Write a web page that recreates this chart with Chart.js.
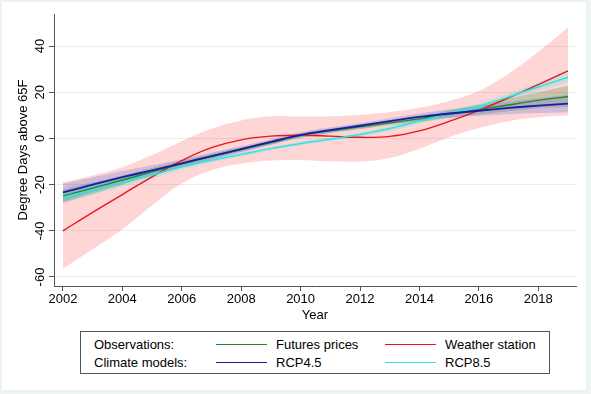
<!DOCTYPE html>
<html>
<head>
<meta charset="utf-8">
<script src="https://cdn.jsdelivr.net/npm/chart.js@4.4.0/dist/chart.umd.min.js"></script>
<style>
  body { margin: 0; background: #eef3f4; font-family: "Liberation Sans", Arial, sans-serif; }
  #frame { position: absolute; left: 2px; top: 2px; width: 584px; height: 388px; background: #fff; }
  #grafica { position: absolute; left: 0; top: 0; }
  #leyenda { position: absolute; left: 80px; top: 331px; width: 468px; height: 41px; border: 1px solid #555; background: #fff; }
  .txt { position: absolute; font-size: 13px; color: #000; line-height: 15px; white-space: nowrap; }
  .lin { position: absolute; width: 51px; height: 0; border-top: 1.5px solid; }
</style>
</head>
<body>
<div id="frame"></div>
<canvas id="grafica" width="591" height="330"></canvas>
<div id="leyenda"></div>
<script>
// years and axis ticks
const years = [2002, 2003, 2004, 2005, 2006, 2007, 2008, 2009, 2010, 2011, 2012, 2013, 2014, 2015, 2016, 2017, 2018, 2019];
const xTicks = [2002, 2004, 2006, 2008, 2010, 2012, 2014, 2016, 2018];
const yTicks = [-60, -40, -20, 0, 20, 40];

// Observations
const futures   = [-25, -21.5, -18, -14.5, -11, -7.8, -4.8, -1.8, 1.2, 3.3, 5.0, 6.8, 8.5, 10.5, 12.5, 14.5, 16.5, 18.2];
const futuresHi = [-22, -19, -16, -12.8, -9.6, -6.6, -3.8, -0.9, 2.1, 4.2, 6.0, 7.9, 9.8, 12.1, 14.6, 17.2, 20, 22.8];
const futuresLo = [-28, -24, -20, -16.2, -12.4, -9.0, -5.8, -2.7, 0.3, 2.4, 4.0, 5.7, 7.2, 8.9, 10.4, 11.8, 13.0, 13.6];

const weather   = [-40, -32, -24.3, -16.6, -9.6, -4.0, -0.6, 1.0, 1.4, 1.0, 0.5, 0.9, 3.3, 7.4, 12.2, 17.6, 23.3, 29.3];
const weatherHi = [-19, -16, -12.5, -7.2, -1.2, 4.2, 7.8, 9.6, 9.5, 9.6, 10.3, 11.5, 13.3, 16.2, 20.5, 28, 37.5, 48];
const weatherLo = [-56.5, -48, -39.3, -29, -19.5, -13.8, -11, -9.6, -9.4, -9.9, -10, -8.5, -4.5, 0.5, 4.5, 7.5, 9.2, 10];

// Climate models
const rcp45   = [-23.4, -20, -16.8, -13.8, -10.8, -7.6, -4.6, -1.5, 1.5, 3.6, 5.5, 7.5, 9.3, 10.8, 12, 13.2, 14.2, 15.1];
const rcp45Hi = [-19.6, -16.8, -14.1, -11.6, -9.0, -6.1, -3.3, -0.3, 2.7, 4.8, 6.7, 8.8, 10.8, 12.6, 14.2, 15.9, 17.4, 18.8];
const rcp45Lo = [-27.2, -23.2, -19.5, -16.0, -12.6, -9.1, -5.9, -2.7, 0.3, 2.4, 4.3, 6.2, 7.8, 9.0, 9.8, 10.5, 11.0, 11.4];

const rcp85   = [-25.5, -22.3, -19.0, -15.8, -12.3, -9.4, -6.9, -4.4, -2.2, -0.3, 1.7, 4.3, 7.5, 10.8, 14.0, 18.0, 22.3, 26.5];
const rcp85Hi = [-23, -20.2, -17.2, -14.3, -11.1, -8.4, -6.0, -3.6, -1.4, 0.5, 2.6, 5.3, 8.6, 12.0, 15.4, 19.6, 24.2, 28.8];
const rcp85Lo = [-28, -24.4, -20.8, -17.3, -13.5, -10.4, -7.8, -5.2, -3.0, -1.1, 0.8, 3.3, 6.4, 9.6, 12.6, 16.4, 20.4, 24.2];

const colores = {
  futures: "#1f8a2a",
  weather: "#e8161c",
  rcp45: "#1a1aa6",
  rcp85: "#30e4e4"
};

const pts = arr => years.map((x, i) => ({ x, y: arr[i] }));

function linea(data, color, ancho) {
  return { data: pts(data), borderColor: color, borderWidth: ancho, pointRadius: 0, fill: false, tension: 0.4 };
}
function borde(data) {
  return { data: pts(data), borderWidth: 0, borderColor: "rgba(0,0,0,0)", pointRadius: 0, fill: false, tension: 0.4 };
}
function banda(data, fondo) {
  return { data: pts(data), borderWidth: 0, borderColor: "rgba(0,0,0,0)", pointRadius: 0, fill: "-1", backgroundColor: fondo, tension: 0.4 };
}

// first dataset ends up on top
const datasets = [
  linea(rcp45, colores.rcp45, 1.8),
  linea(rcp85, colores.rcp85, 1.5),
  linea(futures, colores.futures, 1.4),
  linea(weather, colores.weather, 1.4),
  borde(rcp85Hi), banda(rcp85Lo, "rgba(0,225,225,0.18)"),
  borde(rcp45Hi), banda(rcp45Lo, "rgba(50,90,225,0.22)"),
  borde(futuresHi), banda(futuresLo, "rgba(0,110,0,0.2)"),
  borde(weatherHi), banda(weatherLo, "rgba(255,30,30,0.18)")
];

// y tick labels rotated like the original
const etiquetasY = {
  id: "etiquetasY",
  afterDraw(chart) {
    const ctx = chart.ctx;
    const ys = chart.scales.y;
    ctx.save();
    ctx.fillStyle = "#000";
    ctx.font = "13px 'Liberation Sans', Arial, sans-serif";
    ctx.textAlign = "center";
    ctx.textBaseline = "middle";
    yTicks.forEach(v => {
      ctx.save();
      ctx.translate(40, ys.getPixelForValue(v));
      ctx.rotate(-Math.PI / 2);
      ctx.fillText(String(v), 0, 0);
      ctx.restore();
    });
    ctx.restore();
  }
};

new Chart(document.getElementById("grafica").getContext("2d"), {
  type: "line",
  data: { datasets },
  plugins: [etiquetasY],
  options: {
    responsive: false,
    animation: false,
    devicePixelRatio: 1,
    layout: { padding: { left: 0, right: 15, top: 14, bottom: 0 } },
    plugins: { legend: { display: false }, tooltip: { enabled: false } },
    scales: {
      x: {
        type: "linear",
        min: 2001.7,
        max: 2019.27,
        afterBuildTicks: s => { s.ticks = xTicks.map(v => ({ value: v })); },
        afterFit: s => { s.height = 44; },
        ticks: { color: "#000", padding: 1, maxRotation: 0, font: { family: "'Liberation Sans', Arial, sans-serif", size: 13 }, callback: v => String(v) },
        grid: { drawOnChartArea: false, tickLength: 5, tickColor: "#555" },
        border: { color: "#555", width: 1 },
        title: { display: true, text: "Year", color: "#000", padding: { top: 0, bottom: 7 }, font: { family: "'Liberation Sans', Arial, sans-serif", size: 13 } }
      },
      y: {
        min: -63.9,
        max: 53.9,
        afterBuildTicks: s => { s.ticks = yTicks.map(v => ({ value: v })); },
        afterFit: s => { s.width = 54; },
        ticks: { color: "rgba(0,0,0,0)", font: { size: 13 } },
        grid: { color: "#ececec", lineWidth: 1, tickLength: 5, tickColor: "#555" },
        border: { color: "#555", width: 1 },
        title: { display: true, text: "Degree Days above 65F", color: "#000", padding: { top: 16, bottom: 0 }, font: { family: "'Liberation Sans', Arial, sans-serif", size: 13 } }
      }
    }
  }
});

// legend box (2 x 2 like the original)
const filas = [
  { titulo: "Observations:", items: [["Futures prices", colores.futures], ["Weather station", colores.weather]] },
  { titulo: "Climate models:", items: [["RCP4.5", colores.rcp45], ["RCP8.5", colores.rcp85]] }
];
const ley = document.getElementById("leyenda");
filas.forEach((f, r) => {
  const top = 5 + r * 18;
  let html = `<div class="txt" style="left:13px;top:${top}px">${f.titulo}</div>`;
  f.items.forEach((it, c) => {
    const lx = c === 0 ? 135 : 304;
    html += `<div class="lin" style="left:${lx}px;top:${top + 7}px;border-color:${it[1]}"></div>`;
    html += `<div class="txt" style="left:${lx + 60}px;top:${top}px">${it[0]}</div>`;
  });
  ley.insertAdjacentHTML("beforeend", html);
});
</script>
</body>
</html>
